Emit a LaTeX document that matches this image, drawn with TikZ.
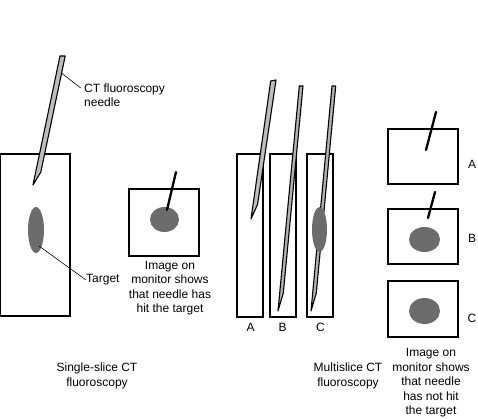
\documentclass[tikz,border=0pt]{standalone}
\usepackage{fontspec}
\setmainfont{Liberation Sans}
\definecolor{blob}{HTML}{6C6C6C}
\definecolor{needlefill}{HTML}{BDBDBD}
\begin{document}
\begin{tikzpicture}[x=1pt,y=-1pt,
  lbl/.style={font=\fontsize{12}{14.5}\selectfont, inner sep=0pt, align=center},
  frame/.style={draw=black, line width=1.3pt},
  blobfill/.style={fill=blob, draw=none},
  needleshape/.style={draw=black, line width=1.1pt, fill=needlefill, line join=round},
  darkneedle/.style={needleshape, fill=gray!60},
  shortneedle/.style={draw=black, line width=2.3pt, line cap=round},
  leader/.style={draw=black, line width=0.6pt}]
\useasboundingbox (0,0) rectangle (478,419);

% ---------- single-slice ----------
\draw[frame] (0.7,154) rectangle (70,316);
\fill[blobfill] (36,230) ellipse [x radius=8, y radius=23];
\draw[needleshape] (60,56) -- (65.2,56) -- (40.8,172.1) -- (33,185) -- cycle;

\node[lbl, anchor=west, align=left] (needlelbl) at (84,95) {CT fluoroscopy\\needle};
\coordinate (needlept) at (61,72.7);
\coordinate (needleend) at (80.7,88);
\draw[leader] (needlept) -- (needleend);

\node[lbl, anchor=west] (targetlbl) at (86,280) {Target};
\coordinate (targetpt) at (39,246);
\draw[leader] (targetpt) -- (targetlbl.west);

\draw[frame] (129,189) rectangle (199,256);
\fill[blobfill] (164.5,219.5) ellipse [x radius=14.5, y radius=12.5];
\draw[shortneedle] (176,172) -- (167,210);
\node[lbl] (hitlbl) at (170,288) {Image on\\monitor shows\\that needle has\\hit the target};

\node[lbl] (singlelbl) at (97,376) {Single-slice CT\\fluoroscopy};

% ---------- multislice ----------
\draw[frame] (237,154) rectangle (263,317);
\draw[frame] (270,154) rectangle (296,317);
\draw[frame] (307,154) rectangle (333,317);

\draw[needleshape] (270.7,81) -- (276,80) -- (257.6,204.2) -- (251,219) -- cycle;
\draw[darkneedle] (299.3,86) -- (303,86) -- (283.3,293) -- (278,311) -- cycle;
\draw[darkneedle] (332,86) -- (335.7,86) -- (316.3,293) -- (311,311) -- cycle;
\fill[blobfill] (319.5,229.5) ellipse [x radius=7.5, y radius=22.5];

\node[lbl] (sA) at (250.5,327) {A};
\node[lbl] (sB) at (282.5,327) {B};
\node[lbl] (sC) at (320.5,327) {C};

\node[lbl] (multilbl) at (348,376) {Multislice CT\\fluoroscopy};

% ---------- monitor images ----------
\draw[frame] (388,129) rectangle (458,184);
\draw[shortneedle] (436,112) -- (426,150);
\draw[frame] (388,209) rectangle (458,264);
\fill[blobfill] (424.5,239.5) ellipse [x radius=15.5, y radius=12.5];
\draw[shortneedle] (435,192) -- (428,218);
\draw[frame] (388,281) rectangle (458,337);
\fill[blobfill] (424.5,311) ellipse [x radius=15.5, y radius=13];

\node[lbl] (mA) at (472,164) {A};
\node[lbl] (mB) at (472,238) {B};
\node[lbl] (mC) at (472,318) {C};

\node[lbl] (notlbl) at (431,383) {Image on\\monitor shows\\that needle\\has not hit\\the target};
\end{tikzpicture}
\end{document}
